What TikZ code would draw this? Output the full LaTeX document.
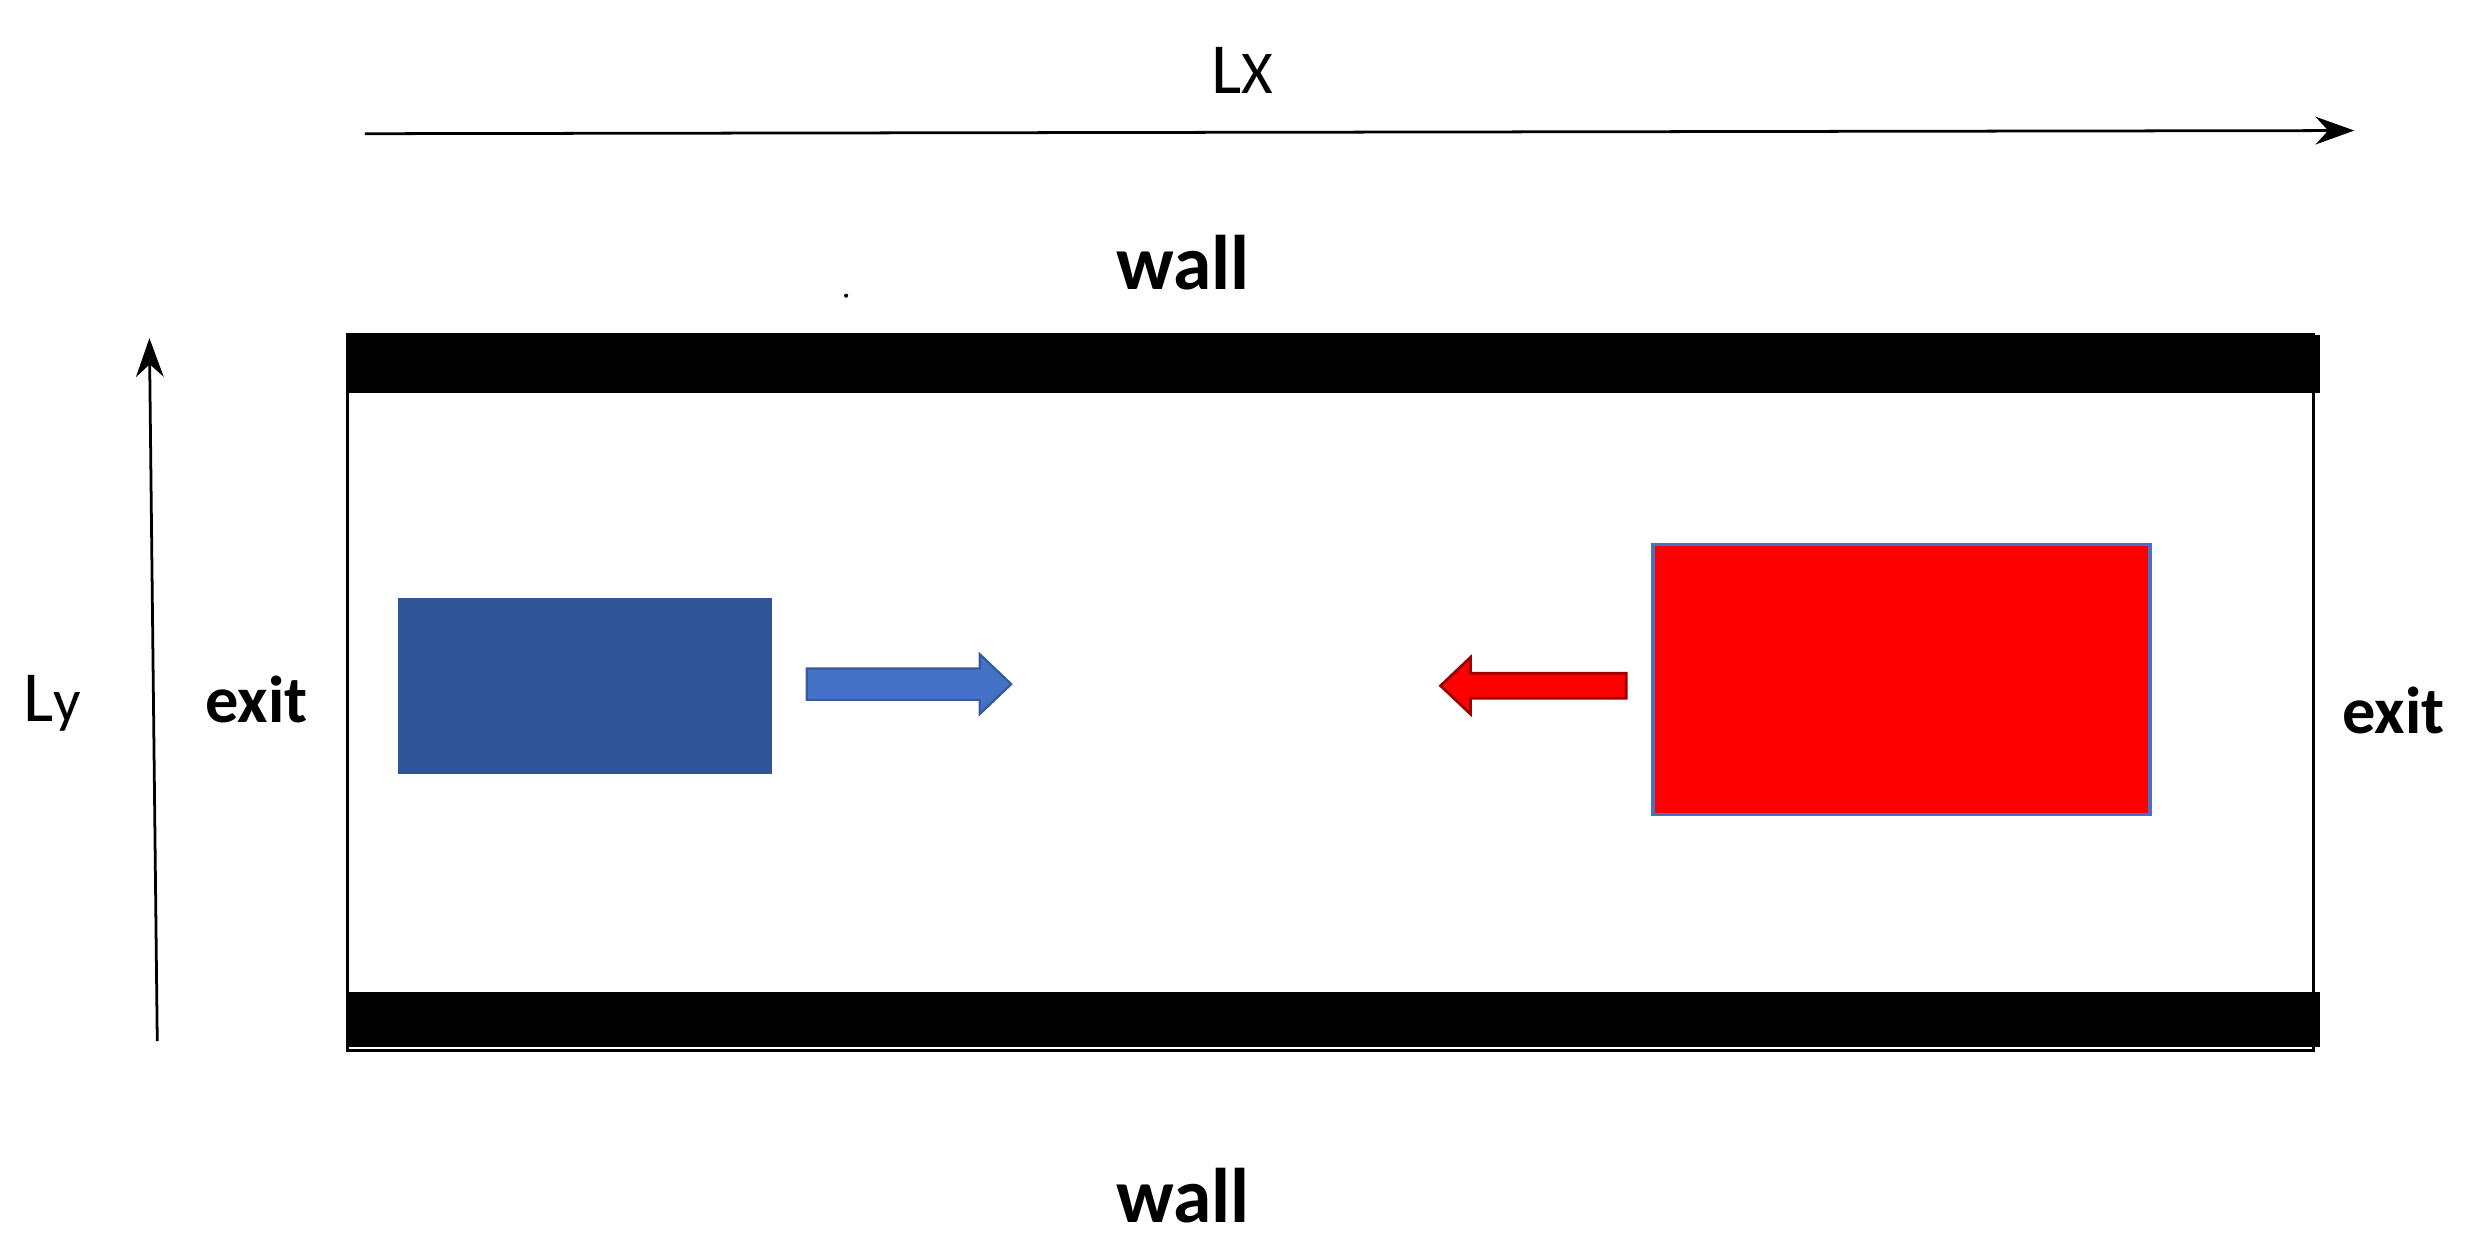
\documentclass[tikz,border=0pt]{standalone}
\usepackage{fontspec}
\setmainfont{Carlito}
\usetikzlibrary{arrows.meta,shapes.arrows}
\definecolor{dblue}{HTML}{2F5597}
\definecolor{lblue}{HTML}{4472C4}
\begin{document}
\begin{tikzpicture}[x=0.01cm,y=-0.01cm,
  lbl/.style={font=\fontsize{14}{16}\selectfont\bfseries},
  axis/.style={-{Stealth[length=7pt,width=5pt]},line width=0.5pt}]
\useasboundingbox (0,0) rectangle (1568,796);
% axes
\coordinate (lx0) at (232,85); \coordinate (lx1) at (1497,83);
\draw[axis] (lx0) -- (lx1);
\node (Lx) at (790,45) {\fontsize{13}{15}\selectfont L\fontsize{11}{13}\selectfont X};
\coordinate (ly0) at (100,662); \coordinate (ly1) at (95,215);
\draw[axis] (ly0) -- (ly1);
\node (Ly) at (33,447) {\fontsize{13}{15}\selectfont L\fontsize{11}{13}\selectfont y};
% channel
\draw[line width=0.6pt] (221,213) rectangle (1471,668);
\fill (221,213) rectangle (1475,250);
\fill (221,631) rectangle (1475,666);
\fill (538,188) circle (1.3);
\node[lbl] (wt) at (752,167) {wall};
\node[lbl] (wb) at (752,760) {wall};
\node[lbl,font=\fontsize{12}{14}\selectfont\bfseries] (el) at (163,445) {exit};
\node[lbl,font=\fontsize{12}{14}\selectfont\bfseries] (er) at (1522,452) {exit};
% blocks
\fill[dblue] (253,380) rectangle (491,492);
\draw[lblue,fill=red,line width=0.6pt] (1051,346) rectangle (1367,518);
% arrows
\draw[lblue!80!black,fill=lblue,line width=0.4pt]
  (513,425) -- (623,425) -- (623,416) -- (643,435) -- (623,454) -- (623,445) -- (513,445) -- cycle;
\draw[red!60!black,fill=red,line width=0.5pt]
  (1034,428) -- (935,428) -- (935,418) -- (916,436) -- (935,454) -- (935,444) -- (1034,444) -- cycle;
\end{tikzpicture}
\end{document}
